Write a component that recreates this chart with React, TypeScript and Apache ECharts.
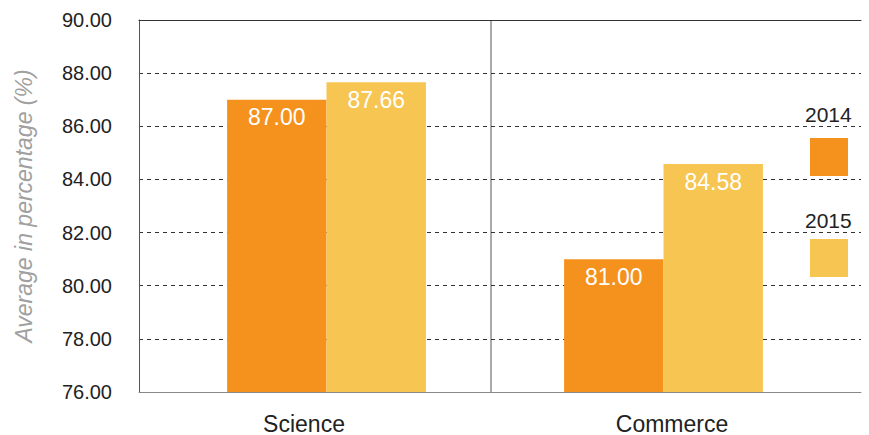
import React, { useEffect, useRef } from "react";
import * as echarts from "echarts";

const categories = ["Science", "Commerce"];
const seriesNames = ["2014", "2015"];
const values2014 = [87.0, 81.0];
const values2015 = [87.66, 84.58];
const yMin = 76;
const yMax = 90;
const yInterval = 2;

const ORANGE = "#F5921E";
const YELLOW = "#F7C552";
const FONT = "'Liberation Sans', Arial, Helvetica, sans-serif";

export default function App() {
  const ref = useRef<HTMLDivElement>(null);
  useEffect(() => {
    document.body.style.margin = "0";
    const chart = echarts.init(ref.current!, null, { renderer: "svg" });
    const top = 20;
    const bottom = 43;
    const option: any = {
      animation: false,
      textStyle: { fontFamily: FONT },
      grid: [
        { left: 139, right: 8, top, bottom },
        { left: 158, right: 37, top, bottom },
        { left: 120, right: 13, top, bottom },
      ],
      xAxis: [
        {
          gridIndex: 0,
          type: "category",
          data: ["", ""],
          axisLine: { show: true, lineStyle: { color: "#888", width: 1 } },
          axisTick: { show: false },
          axisLabel: { show: false },
          splitLine: { show: false },
        },
        {
          gridIndex: 0,
          type: "category",
          position: "top",
          data: ["", ""],
          axisLine: { show: true, lineStyle: { color: "#333", width: 1 } },
          axisTick: { show: false },
          axisLabel: { show: false },
        },
        {
          gridIndex: 1,
          type: "category",
          data: categories,
          show: false,
        },
        {
          gridIndex: 2,
          type: "category",
          data: categories,
          axisLine: { show: false },
          axisTick: { show: false },
          axisLabel: { margin: 21, fontSize: 23, color: "#222", fontFamily: FONT },
        },
      ],
      yAxis: [
        {
          gridIndex: 0,
          type: "value",
          min: yMin,
          max: yMax,
          interval: yInterval,
          name: "Average in percentage (%)",
          nameLocation: "middle",
          nameGap: 104,
          nameTextStyle: { fontStyle: "italic", color: "#a0a0a0", fontSize: 23, fontFamily: FONT },
          axisLine: { show: true, lineStyle: { color: "#555", width: 1 } },
          axisTick: { show: false },
          axisLabel: {
            margin: 27,
            fontSize: 20,
            color: "#222",
            fontFamily: FONT,
            formatter: (v: number) => v.toFixed(2),
          },
          splitLine: { show: true, lineStyle: { color: "#333", type: [4, 4], width: 1 } },
        },
        { gridIndex: 1, type: "value", min: yMin, max: yMax, interval: yInterval, show: false, splitLine: { show: false } },
        { gridIndex: 2, type: "value", min: yMin, max: yMax, interval: yInterval, show: false, splitLine: { show: false } },
      ],
      legend: [
        {
          data: seriesNames,
          orient: "vertical",
          left: 805,
          top: 133,
          itemWidth: 38,
          itemHeight: 38,
          itemGap: 63,
          icon: "rect",
          formatter: () => "",
          selectedMode: false,
        },
        {
          data: seriesNames,
          orient: "vertical",
          left: 795,
          top: 99,
          itemWidth: 0,
          itemHeight: 20,
          itemGap: 85,
          icon: "none",
          itemStyle: { opacity: 0 },
          textStyle: { fontSize: 21, color: "#222", fontFamily: FONT },
          selectedMode: false,
        },
      ],
      graphic: [
        {
          type: "line",
          shape: { x1: 491, y1: top, x2: 491, y2: 435 - bottom },
          style: { stroke: "#555", lineWidth: 1 },
          silent: true,
        },
      ],
      series: [
        {
          name: seriesNames[0],
          type: "bar",
          xAxisIndex: 2,
          yAxisIndex: 1,
          data: values2014,
          barGap: "0%",
          barCategoryGap: "41%",
          itemStyle: { color: ORANGE },
          label: {
            show: true,
            position: "insideTop",
            distance: 6,
            color: "#fff",
            fontSize: 23,
            fontFamily: FONT,
            formatter: (p: any) => Number(p.value).toFixed(2),
          },
        },
        {
          name: seriesNames[1],
          type: "bar",
          xAxisIndex: 2,
          yAxisIndex: 1,
          data: values2015,
          barGap: "0%",
          barCategoryGap: "41%",
          itemStyle: { color: YELLOW },
          label: {
            show: true,
            position: "insideTop",
            distance: 6,
            color: "#fff",
            fontSize: 23,
            fontFamily: FONT,
            formatter: (p: any) => Number(p.value).toFixed(2),
          },
        },
      ],
    };
    chart.setOption(option);
    return () => chart.dispose();
  }, []);
  return <div ref={ref} style={{ width: 869, height: 435 }} />;
}
